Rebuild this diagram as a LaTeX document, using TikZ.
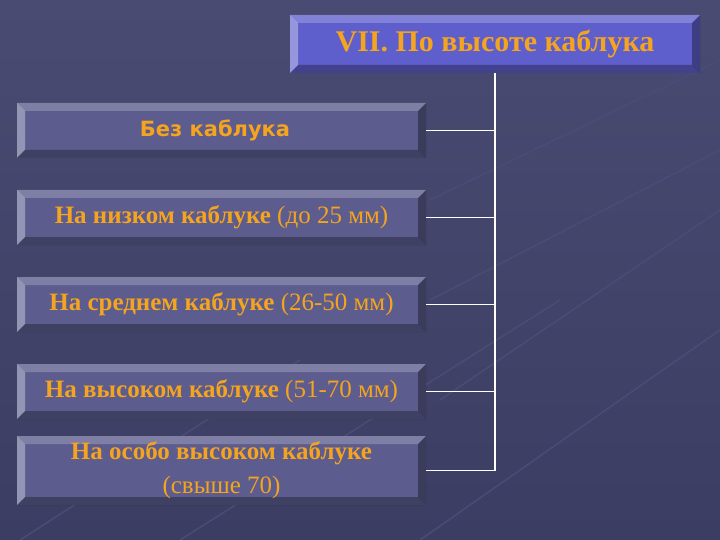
\documentclass[tikz,border=0pt]{standalone}
\usepackage{fontspec}
\setmainfont{Liberation Serif}
\newfontfamily\roundfont{DejaVu Sans}
\usetikzlibrary{calc}

\definecolor{backdrop}{HTML}{3C3D62}
\definecolor{backdroptop}{HTML}{4A4B72}
\definecolor{faceslate}{HTML}{5C5C8E}
\definecolor{faceviolet}{HTML}{5E5ECC}
\definecolor{heelorange}{HTML}{F4A41E}
\definecolor{streak}{HTML}{4B4C75}

\begin{document}
\begin{tikzpicture}[x=1pt,y=-1pt,
    bevel/.style={path picture={
        \coordinate (nw) at (path picture bounding box.north west);
        \coordinate (ne) at (path picture bounding box.north east);
        \coordinate (sw) at (path picture bounding box.south west);
        \coordinate (se) at (path picture bounding box.south east);
        \fill[white,opacity=.22] (nw) -- (ne) -- ([shift={(-8,8)}]ne) -- ([shift={(8,8)}]nw) -- cycle;
        \fill[white,opacity=.35] (nw) -- ([shift={(8,8)}]nw) -- ([shift={(8,-8)}]sw) -- (sw) -- cycle;
        \fill[black,opacity=.35] (ne) -- (se) -- ([shift={(-8,-8)}]se) -- ([shift={(-8,8)}]ne) -- cycle;
        \fill[black,opacity=.30] (sw) -- (se) -- ([shift={(-8,-8)}]se) -- ([shift={(8,-8)}]sw) -- cycle;}},
    heading/.style={bevel,fill=faceviolet,minimum width=410pt,minimum height=58pt,inner sep=0pt,
        text=heelorange,font=\fontsize{30}{36}\selectfont\bfseries},
    kind/.style={bevel,fill=faceslate,minimum width=409pt,minimum height=55pt,inner sep=0pt,
        text=heelorange,font=\fontsize{25}{34}\selectfont,align=center},
    link/.style={white,line width=1.2pt}]
\useasboundingbox[top color=backdroptop,bottom color=backdrop] (0,0) rectangle (720,540);
% faint streaks in the backdrop
\draw[streak,line width=1.5pt] (20,540) -- (300,360) (180,540) -- (560,300) (420,540) -- (720,330);
\draw[streak,line width=1.5pt] (430,300) -- (720,150) (430,200) -- (720,60) (440,400) -- (720,210);

\node[heading] (top) at (495,44) {VII. По высоте каблука};
\node[kind,font=\fontsize{21}{25}\selectfont\roundfont\bfseries] (none) at (221.5,130.5) {\hbox{Без каблука\kern13pt}};
\node[kind] (low) at (221.5,217.5) {\textbf{На низком каблуке} (до 25 мм)};
\node[kind] (mid) at (221.5,304.5) {\textbf{На среднем каблуке} (26-50 мм)};
\node[kind] (high) at (221.5,391.5) {\textbf{На высоком каблуке} (51-70 мм)};
\node[kind,minimum height=69pt] (extra) at (221.5,470.5) {\textbf{На особо высоком каблуке}\\(свыше 70)};

\draw[link] (top.south) -- (top.south |- extra.east);
\draw[link] (none.east) -- (none.east -| top.south);
\draw[link] (low.east) -- (low.east -| top.south);
\draw[link] (mid.east) -- (mid.east -| top.south);
\draw[link] (high.east) -- (high.east -| top.south);
\draw[link] (extra.east) -- (extra.east -| top.south);
\end{tikzpicture}
\end{document}
